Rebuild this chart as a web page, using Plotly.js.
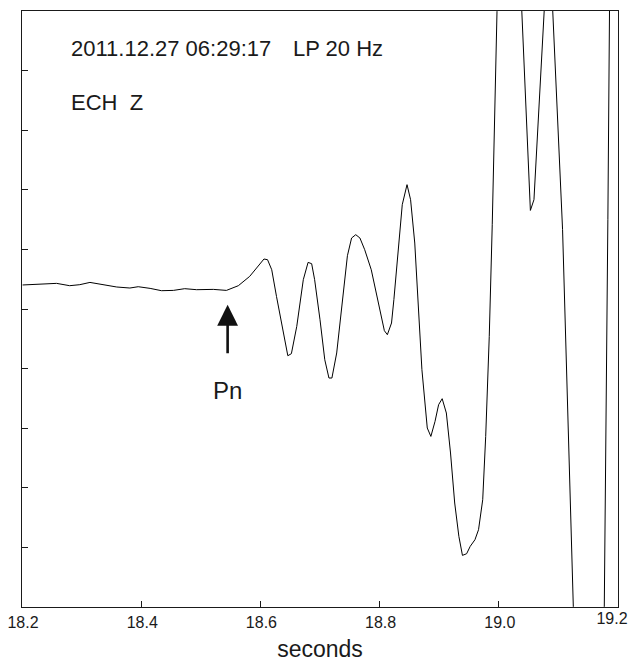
<!DOCTYPE html>
<html>
<head>
<meta charset="utf-8">
<script src="https://cdn.plot.ly/plotly-3.0.1.min.js"></script>
<style>html,body{margin:0;padding:0;background:#fff;}#chart{width:630px;height:666px;}</style>
</head>
<body>
<div id="chart"></div>
<script>
// Time (seconds) and amplitude (arbitrary units, axis spans -5..5)
const timeSec = [
  18.201, 18.230, 18.258, 18.280, 18.297, 18.314, 18.336, 18.359, 18.381, 18.395,
  18.415, 18.434, 18.454, 18.473, 18.493, 18.521, 18.543, 18.563, 18.582, 18.596,
  18.606, 18.612, 18.619, 18.627, 18.636, 18.646, 18.652, 18.661, 18.672, 18.680,
  18.686, 18.691, 18.700, 18.708, 18.715, 18.720, 18.728, 18.736, 18.746, 18.753,
  18.760, 18.767, 18.775, 18.786, 18.798, 18.808, 18.813, 18.820, 18.824, 18.831,
  18.838, 18.846, 18.852, 18.859, 18.865, 18.871, 18.880, 18.886, 18.893, 18.899,
  18.905, 18.912, 18.919, 18.926, 18.933, 18.939, 18.946, 18.952, 18.960, 18.966,
  18.973, 18.978, 18.984, 18.989, 18.997, 19.003, 19.010, 19.017, 19.023, 19.032,
  19.053, 19.059, 19.084, 19.107, 19.116, 19.125, 19.132, 19.142, 19.153, 19.161,
  19.168, 19.174, 19.177, 19.183, 19.185, 19.189, 19.196, 19.203
];
const amplitude = [
  0.403, 0.419, 0.430, 0.391, 0.408, 0.446, 0.408, 0.369, 0.352, 0.374,
  0.346, 0.307, 0.312, 0.341, 0.324, 0.329, 0.312, 0.391, 0.547, 0.715,
  0.839, 0.827, 0.659, 0.211, -0.292, -0.784, -0.750, -0.292, 0.492, 0.782,
  0.760, 0.492, -0.180, -0.851, -1.158, -1.158, -0.738, -0.012, 0.894, 1.191,
  1.247, 1.191, 0.995, 0.659, 0.101, -0.364, -0.431, -0.235, 0.160, 0.995,
  1.750, 2.086, 1.834, 1.107, 0.101, -1.018, -1.997, -2.138, -1.886, -1.606,
  -1.505, -1.745, -2.416, -3.255, -3.815, -4.134, -4.106, -3.983, -3.871, -3.703,
  -3.200, -2.138, -0.460, 1.414, 4.993, 7.941, 9.888, 10.223, 9.216, 6.532,
  1.654, 1.834, 6.448, 1.331, -1.745, -4.990, -7.898, -11.253, -13.602, -14.273,
  -13.267, -8.233, -4.990, 1.498, 4.993, 13.579, 21.968, 27.0
];
const xTickVals = [18.2, 18.4, 18.6, 18.8, 19.0];
const xTickText = ["18.2", "18.4", "18.6", "18.8", "19.0"];
const xEndTickVals = [19.2];
const xEndTickText = ["19.2"];
const yTickVals = [-4, -3, -2, -1, 0, 1, 2, 3, 4];
const headerText = "2011.12.27 06:29:17";
const filterText = "LP 20 Hz";
const stationText = "ECH\u00a0\u00a0Z";
const phaseLabel = "Pn";
const phaseTime = 18.545;
const phaseAmp = 0.07;

const font = "Liberation Sans, Arial, Helvetica, sans-serif";
const ink = "#1a1a1a";

const trace = {
  x: timeSec, y: amplitude, type: "scatter", mode: "lines",
  line: {color: "#000", width: 1}, hoverinfo: "skip"
};
const endAxisTrace = {x: [], y: [], xaxis: "x2", yaxis: "y", type: "scatter", mode: "lines", hoverinfo: "skip"};

const layout = {
  width: 630, height: 666,
  margin: {l: 22, r: 12, t: 11, b: 59},
  paper_bgcolor: "#fff", plot_bgcolor: "#fff",
  showlegend: false,
  font: {family: font, color: ink},
  xaxis: {
    range: [18.2, 19.2], tickvals: xTickVals, ticktext: xTickText,
    ticks: "inside", ticklen: 6, tickwidth: 1, tickcolor: ink,
    showline: true, linecolor: ink, linewidth: 1.3, mirror: true,
    showgrid: false, zeroline: false, ticklabelshift: 1,
    tickfont: {size: 16, family: font, color: ink},
    title: {text: "seconds", font: {size: 23, family: font, color: ink}, standoff: 11}
  },
  xaxis2: {
    overlaying: "x", anchor: "y", side: "bottom",
    range: [18.2, 19.2], tickvals: xEndTickVals, ticktext: xEndTickText,
    ticks: "", showline: false, showgrid: false, zeroline: false,
    ticklabelshift: -6, ticklabeloverflow: "allow",
    tickfont: {size: 16, family: font, color: ink}
  },
  yaxis: {
    range: [-5, 5], tickvals: yTickVals, showticklabels: false,
    ticks: "inside", ticklen: 6, tickwidth: 1, tickcolor: ink,
    showline: true, linecolor: ink, linewidth: 1.3, mirror: true,
    showgrid: false, zeroline: false
  },
  annotations: [
    {xref: "paper", yref: "paper", x: 0.079, y: 0.937, xanchor: "left", yanchor: "middle",
     text: headerText, showarrow: false, font: {size: 22, family: font, color: ink}},
    {xref: "paper", yref: "paper", x: 0.452, y: 0.937, xanchor: "left", yanchor: "middle",
     text: filterText, showarrow: false, font: {size: 22, family: font, color: ink}},
    {xref: "paper", yref: "paper", x: 0.079, y: 0.846, xanchor: "left", yanchor: "middle",
     text: stationText, showarrow: false, font: {size: 22, family: font, color: ink}},
    {x: phaseTime, y: phaseAmp, xref: "x", yref: "y", text: "", showarrow: true,
     ax: 0, ay: 50, arrowhead: 2, arrowsize: 1.6, arrowwidth: 2.6, arrowcolor: "#111", standoff: 0},
    {x: phaseTime, y: -1.36, xref: "x", yref: "y", text: phaseLabel, showarrow: false,
     xanchor: "center", yanchor: "middle", font: {size: 24, family: font, color: ink}}
  ]
};

Plotly.newPlot("chart", [trace, endAxisTrace], layout, {staticPlot: true, displayModeBar: false});
</script>
</body>
</html>
